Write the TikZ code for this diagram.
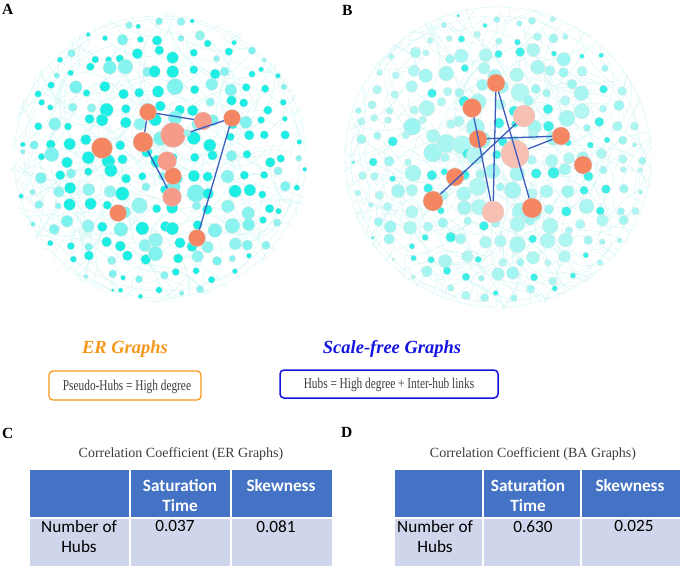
\documentclass[tikz,border=0pt]{standalone}
\usepackage{fontspec}
\setmainfont{Liberation Serif}
\newfontfamily\calib{Carlito}
\definecolor{cyA}{RGB}{28,238,228}
\definecolor{cyL}{RGB}{150,243,240}
\definecolor{cyB}{RGB}{60,240,232}
\definecolor{cyBL}{RGB}{180,246,243}
\definecolor{edgeC}{RGB}{206,245,244}
\definecolor{hubO}{RGB}{244,134,98}
\definecolor{hubP}{RGB}{246,155,138}
\definecolor{hubPL}{RGB}{248,192,178}
\definecolor{linkB}{RGB}{62,92,190}
\definecolor{erOrange}{RGB}{246,152,28}
\definecolor{sfBlue}{RGB}{20,20,225}
\definecolor{hdrBlue}{RGB}{68,114,196}
\definecolor{rowLav}{RGB}{207,213,234}
\definecolor{txtGray}{RGB}{60,60,60}
\tikzset{
  hub/.style={circle, inner sep=0pt, minimum size=#1, draw=black!18, line width=0.3pt},
  link/.style={draw=linkB, line width=1.3pt},
  edge/.style={draw=edgeC, line width=0.35pt},
  dot/.style={draw=black!10, line width=0.25pt},
  panel/.style={font=\bfseries\fontsize{15.5}{15.5}\selectfont, anchor=base west, inner sep=0pt},
  gtitle/.style={font=\bfseries\itshape\fontsize{18.5}{18.5}\selectfont, anchor=base, inner sep=0pt},
  boxtxt/.style={font=\fontsize{15}{15}\selectfont, text=txtGray, anchor=base, inner sep=0pt},
  ttitle/.style={font=\fontsize{14}{14}\selectfont, text=txtGray, anchor=base, inner sep=0pt},
  hdr/.style={font=\calib\bfseries\fontsize{17.2}{20}\selectfont, text=white, align=center, anchor=north, inner sep=0pt},
  cell/.style={font=\calib\fontsize{17.2}{20}\selectfont, text=black, align=center, anchor=north, inner sep=0pt}
}
\begin{document}
\begin{tikzpicture}[x=1pt,y=-1pt]
\useasboundingbox (0,0) rectangle (685,568);
\pgfmathsetseed{4242}
% ---------- Graph A: faint edges ----------
\begin{scope}
\clip (160,157) ellipse [x radius=150pt, y radius=145pt];
\foreach \k in {1,...,360}{
  \pgfmathsetmacro\ax{160+140*(2*rnd-1)}
  \pgfmathsetmacro\ay{157+135*(2*rnd-1)}
  \pgfmathsetmacro\bx{\ax+90*(2*rnd-1)}
  \pgfmathsetmacro\by{\ay+90*(2*rnd-1)}
  \draw[edge] (\ax,\ay) to[bend left=35] (\bx,\by);
}
\end{scope}
\draw[edge] (160,157) ellipse [x radius=146pt, y radius=141pt];
\draw[edge] (162,155) ellipse [x radius=138pt, y radius=136pt];
% ---------- Graph A: ordinary nodes ----------
\foreach \i in {-8,...,8}{\foreach \j in {-8,...,8}{
  \pgfmathsetmacro\px{160+\i*17.5+5.5*rand}
  \pgfmathsetmacro\py{157+\j*17+5.5*rand}
  \pgfmathsetmacro\dd{((\px-160)/146)^2+((\py-157)/141)^2}
  \pgfmathsetmacro\isb{rnd<0.68 ? 1 : 0}
  \pgfmathsetmacro\rb{\isb>0.5 ? 4+3*rnd : 4+5*rnd}
  \pgfmathsetmacro\rr{max(1.5,\rb*(1-0.6*\dd*\dd))}
  \pgfmathsetmacro\mx{\isb>0.5 ? 100 : 25*rnd}
  \ifdim\dd pt<1pt
    \filldraw[dot, fill=cyA!\mx!cyL] (\px,\py) circle[radius=\rr pt];
  \fi
}}
% ---------- Graph A: hubs ----------
\node[hub=17pt, fill=hubO] (a1) at (148,112) {};
\node[hub=18pt, fill=hubP] (a2) at (203,121) {};
\node[hub=17pt, fill=hubO] (a3) at (232,118) {};
\node[hub=25pt, fill=hubP] (a4) at (173,135) {};
\node[hub=20pt, fill=hubO] (a5) at (143,142) {};
\node[hub=21pt, fill=hubO] (a6) at (102,148) {};
\node[hub=19pt, fill=hubP] (a7) at (167,161) {};
\node[hub=17pt, fill=hubO] (a8) at (173,176) {};
\node[hub=19pt, fill=hubP] (a9) at (172,197) {};
\node[hub=17pt, fill=hubO] (a10) at (118,213) {};
\node[hub=17pt, fill=hubO] (a11) at (197,238) {};
\node[hub=7pt, fill=cyL] (ac) at (187,133) {};
\draw[link] (a1) -- (a2);
\draw[link] (a1) -- (a5);
\draw[link] (a5) -- (a9);
\draw[link] (a3) -- (ac);
\draw[link] (a3) -- (a11);
% ---------- Graph B: faint edges ----------
\begin{scope}
\clip (498,157) ellipse [x radius=155pt, y radius=152pt];
\foreach \k in {1,...,380}{
  \pgfmathsetmacro\ax{498+148*(2*rnd-1)}
  \pgfmathsetmacro\ay{157+145*(2*rnd-1)}
  \pgfmathsetmacro\bx{\ax+90*(2*rnd-1)}
  \pgfmathsetmacro\by{\ay+90*(2*rnd-1)}
  \draw[edge] (\ax,\ay) to[bend left=35] (\bx,\by);
}
\end{scope}
\draw[edge] (498,157) ellipse [x radius=153pt, y radius=150pt];
\draw[edge] (496,159) ellipse [x radius=145pt, y radius=143pt];
% ---------- Graph B: ordinary nodes ----------
\foreach \i in {-9,...,9}{\foreach \j in {-9,...,9}{
  \pgfmathsetmacro\px{498+\i*17.5+5.5*rand}
  \pgfmathsetmacro\py{157+\j*17+5.5*rand}
  \pgfmathsetmacro\dd{((\px-498)/150)^2+((\py-157)/148)^2}
  \pgfmathsetmacro\isb{rnd<0.28 ? 1 : 0}
  \pgfmathsetmacro\rb{\isb>0.5 ? 3.5+2.5*rnd : 4+5.5*rnd}
  \pgfmathsetmacro\rr{max(1.5,\rb*(1-0.6*\dd*\dd))}
  \pgfmathsetmacro\mx{\isb>0.5 ? 100 : 20*rnd}
  \ifdim\dd pt<1pt
    \filldraw[dot, fill=cyB!\mx!cyBL] (\px,\py) circle[radius=\rr pt];
  \fi
}}
% ---------- Graph B: hubs ----------
\node[hub=18pt, fill=hubO] (b1) at (496,83) {};
\node[hub=19pt, fill=hubO] (b2) at (472,108) {};
\node[hub=22pt, fill=hubPL] (b3) at (524,116) {};
\node[hub=18pt, fill=hubO] (b4) at (478,139) {};
\node[hub=18pt, fill=hubO] (b5) at (561,136) {};
\node[hub=28pt, fill=hubPL] (b6) at (515,154) {};
\node[hub=18pt, fill=hubO] (b7) at (583,165) {};
\node[hub=18pt, fill=hubO] (b8) at (455,177) {};
\node[hub=20pt, fill=hubO] (b9) at (433,201) {};
\node[hub=22pt, fill=hubPL] (b10) at (493,212) {};
\node[hub=20pt, fill=hubO] (b11) at (532,208) {};
\draw[link] (b1) -- (b10);
\draw[link] (b1) -- (b11);
\draw[link] (b2) -- (b10);
\draw[link] (b4) -- (b5);
\draw[link] (b5) -- (b6);
\draw[link] (b3) -- (b9);
% ---------- panel letters ----------
\node[panel] (lA) at (2,14) {A};
\node[panel] (lB) at (342,15) {B};
\node[panel] (lC) at (2,438) {C};
\node[panel] (lD) at (341,437) {D};
% ---------- titles and boxes ----------
\node[gtitle, text=erOrange] (tER) at (125,353) {ER Graphs};
\node[gtitle, text=sfBlue] (tSF) at (392,353) {Scale-free Graphs};
\draw[erOrange, line width=1.3pt, rounded corners=4pt] (49,371) rectangle (201,400);
\node[boxtxt] (bER) at (127,390.5) {\scalebox{0.755}[1]{Pseudo-Hubs = High degree}};
\draw[sfBlue, line width=1.5pt, rounded corners=4pt] (280,370) rectangle (498,398);
\node[boxtxt] (bSF) at (389,388) {\scalebox{0.755}[1]{Hubs = High degree + Inter-hub links}};
% ---------- table C ----------
\node[ttitle] (tC) at (181,457) {Correlation Coefficient (ER Graphs)};
\fill[hdrBlue] (30,470) rectangle (129,517);
\fill[hdrBlue] (131,470) rectangle (230,517);
\fill[hdrBlue] (232,470) rectangle (332,517);
\fill[rowLav] (30,519) rectangle (129,566);
\fill[rowLav] (131,519) rectangle (230,566);
\fill[rowLav] (232,519) rectangle (332,566);
\node[hdr] (c12) at (180,479) {Saturation\\Time};
\node[hdr] (c13) at (281,479) {Skewness};
\node[cell] (c21) at (79,520.5) {Number of\\Hubs};
\node[cell] (c22) at (175,520.5) {0.037};
\node[cell] (c23) at (276,520.5) {0.081};
% ---------- table D ----------
\node[ttitle] (tD) at (533,457) {Correlation Coefficient (BA Graphs)};
\fill[hdrBlue] (395,470) rectangle (482,517);
\fill[hdrBlue] (484,470) rectangle (580,517);
\fill[hdrBlue] (582,470) rectangle (680,517);
\fill[rowLav] (395,519) rectangle (482,566);
\fill[rowLav] (484,519) rectangle (580,566);
\fill[rowLav] (582,519) rectangle (680,566);
\node[hdr] (d12) at (528,479) {Saturation\\Time};
\node[hdr] (d13) at (630,479) {Skewness};
\node[cell] (d21) at (435,520.5) {Number of\\Hubs};
\node[cell] (d22) at (533,520.5) {0.630};
\node[cell] (d23) at (634,520.5) {0.025};
\end{tikzpicture}
\end{document}
